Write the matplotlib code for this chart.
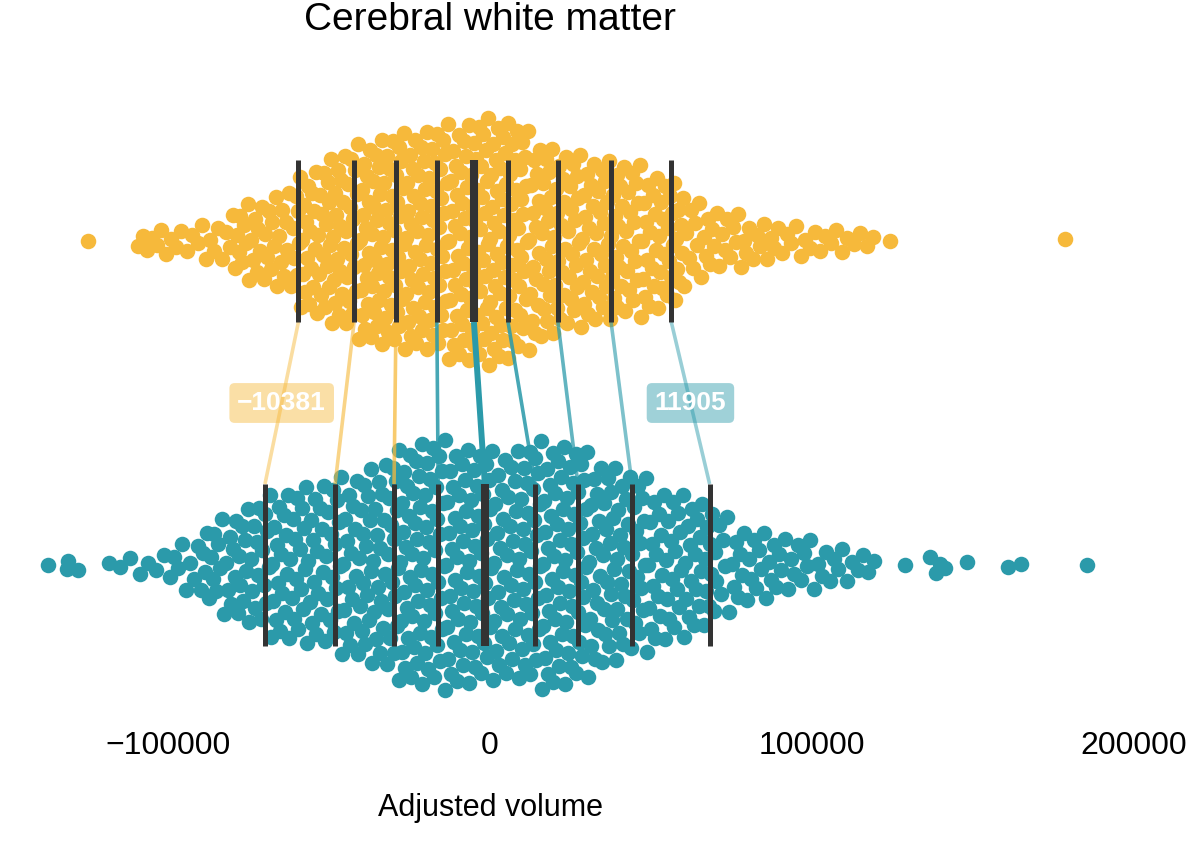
import numpy as np
import matplotlib
matplotlib.use("Agg")
import matplotlib.pyplot as plt

plt.rcParams['font.family'] = ['Liberation Sans', 'DejaVu Sans']

# Data
# counts per 10000-wide bin, starting at the given left edge
top_bin_start = -110000
top_counts = [7, 6, 8, 18, 19, 33, 38, 45, 46, 48, 52, 54, 42, 37, 35, 32, 30,
              15, 12, 9, 7, 6, 5]
top_extra = [-124800, 124200, 178600]

bot_bin_start = -120000
bot_counts = [3, 4, 8, 17, 22, 28, 29, 32, 36, 45, 45, 43, 40, 45, 45, 37, 33,
              27, 26, 15, 13, 10, 8, 6]
bot_extra = [-137300, -131400, -131000, -128000, 128900, 136600, 138500,
             139800, 141300, 148100, 160900, 164900, 185400]

top_deciles = [-59500, -42200, -29200, -16500, -5000, 5600, 21100, 37600, 56300]
bot_deciles = [-69881, -48100, -29800, -16100, -1600, 14000, 27300, 44100, 68205]

yellow = "#F6B93B"
teal = "#2B9AAA"
dark = "#333333"


def bins_to_values(start, counts, extra, width=10000):
    vals = []
    for k, n in enumerate(counts):
        lo = start + k * width
        for j in range(n):
            vals.append(lo + (j + 0.5) / n * width)
    vals.extend(extra)
    return np.sort(np.array(vals, dtype=float))


def vdc(n, base=2):
    v, denom = 0.0, 1.0
    while n:
        denom *= base
        n, r = divmod(n, base)
        v += r / denom
    return v


def quasi_offsets(x, half=0.39, bw=5500.0):
    d = np.exp(-0.5 * ((x[:, None] - x[None, :]) / bw) ** 2).sum(axis=1)
    d = d / d.max()
    q = np.array([vdc(i + 1) for i in range(len(x))]) * 2 - 1
    return q * d * half


top_vals = bins_to_values(top_bin_start, top_counts, top_extra)
bot_vals = bins_to_values(bot_bin_start, bot_counts, bot_extra)

fig = plt.figure(figsize=(12, 8.5), dpi=100)
ax = fig.add_axes([30 / 1200, 150 / 850, 1140 / 1200, 600 / 850])

y_top, y_bot = 1.0, 0.0
ax.scatter(top_vals, y_top + quasi_offsets(top_vals), s=125, color=yellow,
           linewidths=0, zorder=1)
ax.scatter(bot_vals, y_bot + quasi_offsets(bot_vals), s=125, color=teal,
           linewidths=0, zorder=1)

h = 0.25
for q, (a, b) in enumerate(zip(top_deciles, bot_deciles)):
    median = q == 4
    diff = b - a
    col = teal if diff > 0 else yellow
    alpha = 1 - abs(q - 4) * 0.13
    ax.plot([a, b], [y_top - h, y_bot + h], color=col, alpha=alpha,
            lw=4.3 if median else 2.6, solid_capstyle='butt', zorder=2)
    lw = 5.8 if median else 3.6
    ax.plot([a, a], [y_top - h, y_top + h], color=dark, lw=lw,
            solid_capstyle='butt', zorder=3)
    ax.plot([b, b], [y_bot - h, y_bot + h], color=dark, lw=lw,
            solid_capstyle='butt', zorder=3)
    if q in (0, 8):
        txt = f"{diff:.0f}".replace("-", "\u2212")
        ax.text((a + b) / 2, (y_top - h + y_bot + h) / 2, txt, ha='center',
                va='center', color='white', fontsize=19, fontweight='bold',
                zorder=4,
                bbox=dict(boxstyle='round,pad=0.3,rounding_size=0.2',
                          facecolor=col, alpha=0.45, edgecolor='none'))

ax.set_xlim((30 - 490) / 3.22 * 1000, (1170 - 490) / 3.22 * 1000)
ax.set_ylim((565 - 700) / 324, (565 - 100) / 324)
ax.set_xticks([-100000, 0, 100000, 200000])
ax.set_xticklabels(["\u2212100000", "0", "100000", "200000"])
ax.tick_params(axis='x', length=0, pad=22, labelsize=23)
ax.set_yticks([])
for s in ax.spines.values():
    s.set_visible(False)

fig.text(490 / 1200, 1 - 808 / 850, "Adjusted volume", ha='center',
         va='center', fontsize=22)
fig.text(490 / 1200, 1 - 20 / 850, "Cerebral white matter", ha='center',
         va='center', fontsize=28)

fig.savefig("out.png", dpi=100, facecolor='white')
